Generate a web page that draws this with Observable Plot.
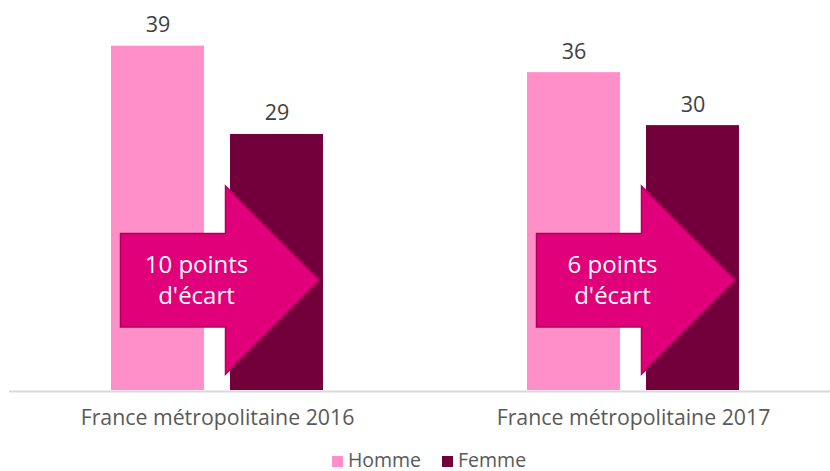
<!DOCTYPE html>
<html>
<head>
<meta charset="utf-8">
<script src="https://cdn.jsdelivr.net/npm/d3@7"></script>
<script src="https://cdn.jsdelivr.net/npm/@observablehq/plot@0.6"></script>
<style>
  html, body { margin: 0; padding: 0; background: #fff; }
  #chart svg { display: block; }
  #legend { height: 31px; box-sizing: border-box; padding-top: 9.5px; padding-left: 28px; text-align: center;
            font-family: 'Open Sans', sans-serif; font-size: 19.5px; line-height: 19.5px; color: #595959; white-space: nowrap; }
  #legend .sw { display: inline-block; width: 11px; height: 11px; margin-right: 5px; vertical-align: baseline; }
  #legend .item { display: inline-block; }
  #legend .item + .item { margin-left: 21px; }
</style>
</head>
<body>
<div id="chart"></div>
<div id="legend"></div>
<script>
const categories = ["France métropolitaine 2016", "France métropolitaine 2017"];
const series = ["Homme", "Femme"];
const homme = [39, 36];
const femme = [29, 30];
const gapLabels = ["10 points\nd'écart", "6 points\nd'écart"];
const colors = ["#FF8FC8", "#72003A"];

const data = categories.flatMap((c, i) => [
  {cat: c, serie: series[0], value: homme[i]},
  {cat: c, serie: series[1], value: femme[i]}
]);
const gaps = categories.map((c, i) => ({cat: c, label: gapLabels[i]}));

// custom arrow symbol (shape only, drawn around the dot position)
const arrowSymbol = {
  draw(ctx) {
    const bx0 = -97, hb = 8, tip = 102, bh = 46.75, hh = 94;
    ctx.moveTo(bx0, -bh);
    ctx.lineTo(hb, -bh);
    ctx.lineTo(hb, -hh);
    ctx.lineTo(tip, 0);
    ctx.lineTo(hb, hh);
    ctx.lineTo(hb, bh);
    ctx.lineTo(bx0, bh);
    ctx.closePath();
  }
};

const plot = Plot.plot({
  width: 830,
  height: 440,
  marginLeft: 9,
  marginRight: 0,
  marginTop: 1.5,
  marginBottom: 50,
  style: {fontFamily: "'Open Sans', sans-serif", color: "#595959", background: "white"},
  fx: {domain: categories, range: [9, 841], padding: 0, label: null},
  x: {domain: series, paddingInner: 0.217, paddingOuter: 0.842, axis: null},
  y: {domain: [0, 44], axis: null},
  color: {domain: series, range: colors},
  marks: [
    Plot.barY(data, {fx: "cat", x: "serie", y: "value", fill: "serie"}),
    Plot.ruleY([0], {stroke: "#D9D9D9", strokeWidth: 2, dy: 1}),
    Plot.text(data, {fx: "cat", x: "serie", y: "value", text: d => String(d.value),
      lineAnchor: "bottom", dy: -14, fontSize: 21.5, fill: "#404040"}),
    Plot.dot(gaps, {fx: "cat", y: () => 12.5, symbol: arrowSymbol, r: 10,
      fill: "#E0007A", stroke: "#B0005E", strokeWidth: 1.5}),
    Plot.text(gaps, {fx: "cat", y: () => 12.5, text: "label", dx: -21, dy: -2,
      fontSize: 24, lineHeight: 1.29, fill: "white"}),
    Plot.axisFx({anchor: "bottom", tickSize: 0, tickPadding: 19.5, fontSize: 21.3, label: null, fill: "#595959"})
  ]
});
document.getElementById("chart").appendChild(plot);

const legend = document.getElementById("legend");
series.forEach((s, i) => {
  const item = document.createElement("span");
  item.className = "item";
  const sw = document.createElement("span");
  sw.className = "sw";
  sw.style.background = colors[i];
  item.appendChild(sw);
  item.appendChild(document.createTextNode(s));
  legend.appendChild(item);
});
</script>
</body>
</html>
